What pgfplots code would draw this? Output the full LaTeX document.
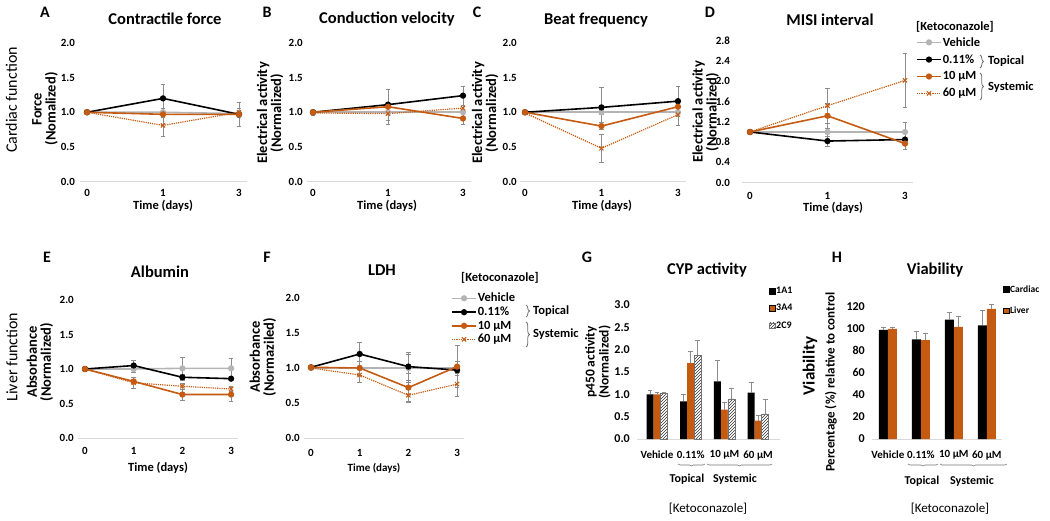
\documentclass[border=0pt]{standalone}
\usepackage{fontspec}
\setmainfont{Carlito}
\usepackage{pgfplots}
\pgfplotsset{compat=1.18}
\usetikzlibrary{patterns,decorations.pathreplacing}
\definecolor{kor}{HTML}{C55A11}
\definecolor{vgr}{HTML}{B4B4B4}
\definecolor{egr}{HTML}{8C8C8C}
\definecolor{bgr}{HTML}{D9D9D9}
\definecolor{brc}{HTML}{707070}
\newcommand{\fs}[1]{\fontsize{#1}{#1}\selectfont}
\pgfplotsset{
  base/.style={scale only axis, anchor=south west, clip=false,
    axis x line*=bottom, axis y line*=left,
    y axis line style={draw=none},
    x axis line style={draw=bgr, line width=1pt},
    major tick length=0pt, tick style={draw=none},
    /pgf/number format/assume math mode=true,
    tick label style={font=\bfseries\fs{11}},
    yticklabel style={anchor=east, inner sep=0pt},
    xticklabel style={anchor=north, inner sep=0pt},
  },
  linep/.style={base, ymin=0, ymax=2, ytick={0,0.5,1,1.5,2},
    xtick={0,1,2}, xticklabels={0,1,3},
    /pgf/number format/fixed, /pgf/number format/fixed zerofill, /pgf/number format/precision=1,
    legend image code/.code={\draw[mark repeat=2,mark phase=2,##1] plot coordinates {(0pt,0pt) (12pt,0pt) (24pt,0pt)};},
    legend cell align=left,
  },
  eb/.style={/pgfplots/error bars/y dir=both, /pgfplots/error bars/y explicit,
    /pgfplots/error bars/error bar style={egr, line width=0.7pt, solid},
    /pgfplots/error bars/error mark options={rotate=90, egr, mark size=2.4pt, line width=0.7pt, solid}},
  ebp/.style={/pgfplots/error bars/y dir=plus, /pgfplots/error bars/y explicit,
    /pgfplots/error bars/error bar style={egr, line width=0.7pt, solid},
    /pgfplots/error bars/error mark options={rotate=90, egr, mark size=2.4pt, line width=0.7pt, solid}},
  veh/.style={vgr, line width=1.6pt, mark=*, mark size=2.3pt, eb},
  blk/.style={black, line width=1.6pt, mark=*, mark size=2.3pt, eb},
  org/.style={kor, line width=1.6pt, mark=*, mark size=2.3pt, eb},
  dtd/.style={kor, line width=1.2pt, densely dotted, mark=x, mark size=3pt, mark options={solid, line width=1pt}, eb},
  barp/.style={base, ybar=0pt, xtick={0,1,2,3}, xticklabels={Vehicle,0.11\%,10 µM,60 µM},
    xticklabel style={yshift=-11.5pt},
    yticklabel style={font=\bfseries\fs{12}},
    legend image code/.code={\draw[##1] (0pt,-2.8pt) rectangle (5.6pt,2.8pt);},
    legend cell align=left,
  },
}
\begin{document}
\begin{tikzpicture}
\path[use as bounding box] (0pt,0pt) rectangle (1050pt,520pt);

% ---------------- A
\begin{axis}[linep, at={(80.2pt,338.5pt)}, width=166.4pt, height=138.5pt, xmin=-0.09, xmax=2.1,
  yticklabel style={xshift=-5pt}, xticklabel style={yshift=-7.5pt}]
\addplot[veh] table[x=x,y=y,y error=e]{
x y e
0 1.00 0.02
1 1.00 0.05
2 0.98 0.05
};
\addplot[blk] table[x=x,y=y,y error=e]{
x y e
0 1.00 0.0
1 1.20 0.20
2 0.97 0.05
};
\addplot[org] table[x=x,y=y,y error=e]{
x y e
0 1.00 0.0
1 0.97 0.05
2 0.97 0.18
};
\addplot[dtd] table[x=x,y=y,y error=e]{
x y e
0 1.00 0.02
1 0.81 0.16
2 1.00 0.05
};
\end{axis}

% ---------------- B
\begin{axis}[linep, at={(307pt,338.5pt)}, width=163.5pt, height=138.5pt, xmin=-0.08, xmax=2.1,
  yticklabel style={xshift=-4pt}, xticklabel style={yshift=-8pt}]
\addplot[veh] table[x=x,y=y,y error=e]{
x y e
0 1.00 0.02
1 1.00 0.03
2 1.00 0.02
};
\addplot[blk] table[x=x,y=y,y error=e]{
x y e
0 1.00 0.0
1 1.11 0.22
2 1.24 0.14
};
\addplot[org] table[x=x,y=y,y error=e]{
x y e
0 1.00 0.0
1 1.08 0.05
2 0.91 0.08
};
\addplot[dtd] table[x=x,y=y,y error=e]{
x y e
0 0.99 0.03
1 0.98 0.15
2 1.06 0.04
};
\end{axis}

% ---------------- C
\begin{axis}[linep, at={(519.6pt,338.5pt)}, width=166pt, height=138.5pt, xmin=-0.07, xmax=2.1,
  yticklabel style={xshift=-2.6pt}, xticklabel style={yshift=-8pt}]
\addplot[veh] table[x=x,y=y,y error=e]{
x y e
0 1.00 0.02
1 1.00 0.03
2 1.00 0.02
};
\addplot[blk] table[x=x,y=y,y error=e]{
x y e
0 1.00 0.0
1 1.07 0.29
2 1.16 0.22
};
\addplot[org] table[x=x,y=y,y error=e]{
x y e
0 1.00 0.0
1 0.80 0.05
2 1.08 0.05
};
\addplot[dtd] table[x=x,y=y,y error=e]{
x y e
0 0.99 0.02
1 0.48 0.20
2 0.965 0.16
};
\end{axis}

% ---------------- D
\begin{axis}[linep, at={(742.25pt,337.5pt)}, width=170.5pt, height=141.5pt, xmin=-0.1, xmax=2.1,
  ymax=2.8, ytick={0,0.4,0.8,1.2,1.6,2.0,2.4,2.8},
  yticklabel style={xshift=-12.2pt}, xticklabel style={yshift=-10pt},
  legend style={draw=none, fill=none, at={(1.019,1.035)}, anchor=north west,
    font=\bfseries\fs{12.5}, inner sep=0pt, row sep=5pt, nodes={inner sep=1pt}}]
\addplot[veh] table[x=x,y=y,y error=e]{
x y e
0 1.00 0.02
1 1.00 0.08
2 1.00 0.20
};
\addlegendentry{Vehicle}
\addplot[blk] table[x=x,y=y,y error=e]{
x y e
0 1.00 0.0
1 0.82 0.10
2 0.85 0.05
};
\addlegendentry{0.11\%}
\addplot[org] table[x=x,y=y,y error=e]{
x y e
0 1.00 0.0
1 1.32 0.25
2 0.77 0.12
};
\addlegendentry{10 µM}
\addplot[dtd] table[x=x,y=y,y error=e]{
x y e
0 1.00 0.02
1 1.52 0.35
2 2.02 0.53
};
\addlegendentry{60 µM}
\end{axis}

% ---------------- E
\begin{axis}[linep, at={(77.7pt,82pt)}, width=160.7pt, height=138pt, xmin=-0.15, xmax=3.15,
  xtick={0,1,2,3}, xticklabels={0,1,2,3},
  yticklabel style={xshift=-3.7pt}, xticklabel style={yshift=-9pt}]
\addplot[veh] table[x=x,y=y,y error=e]{
x y e
0 1.00 0.02
1 1.00 0.05
2 1.01 0.16
3 1.01 0.15
};
\addplot[blk] table[x=x,y=y,y error=e]{
x y e
0 1.00 0.0
1 1.05 0.07
2 0.88 0.04
3 0.86 0.03
};
\addplot[org] table[x=x,y=y,y error=e]{
x y e
0 1.00 0.0
1 0.82 0.03
2 0.63 0.08
3 0.63 0.10
};
\addplot[dtd] table[x=x,y=y,y error=e]{
x y e
0 1.00 0.02
1 0.80 0.08
2 0.75 0.04
3 0.71 0.04
};
\end{axis}

% ---------------- F
\begin{axis}[linep, at={(303.7pt,82pt)}, width=160.7pt, height=140pt, xmin=-0.15, xmax=3.15,
  xtick={0,1,2,3}, xticklabels={0,1,2,3},
  yticklabel style={xshift=-3.7pt}, xticklabel style={yshift=-11pt},
  legend style={draw=none, fill=none, at={(0.917,1.043)}, anchor=north west,
    font=\bfseries\fs{12.5}, inner sep=0pt, row sep=1.7pt, nodes={inner sep=1pt}}]
\addplot[veh] table[x=x,y=y,y error=e]{
x y e
0 1.00 0.02
1 1.00 0.10
2 1.00 0.20
3 1.00 0.10
};
\addlegendentry{Vehicle}
\addplot[blk] table[x=x,y=y,y error=e]{
x y e
0 1.01 0.03
1 1.20 0.17
2 1.02 0.20
3 0.97 0.05
};
\addlegendentry{0.11\%}
\addplot[org] table[x=x,y=y,y error=e]{
x y e
0 1.01 0.02
1 1.00 0.10
2 0.72 0.20
3 1.02 0.30
};
\addlegendentry{10 µM}
\addplot[dtd] table[x=x,y=y,y error=e]{
x y e
0 1.00 0.02
1 0.90 0.10
2 0.61 0.10
3 0.77 0.17
};
\addlegendentry{60 µM}
\end{axis}

% ---------------- G
\begin{axis}[barp, bar width=7pt, at={(636.8pt,81pt)}, width=143.2pt, height=134pt,
  xmin=-0.6, xmax=3.65, ymin=0, ymax=3, ytick={0,0.5,1,1.5,2,2.5,3},
  /pgf/number format/fixed, /pgf/number format/fixed zerofill, /pgf/number format/precision=1,
  yticklabel style={xshift=-6.8pt},
  legend style={draw=none, fill=none, at={(0.923,1.14)}, anchor=north west,
    font=\bfseries\fs{10}, inner sep=0pt, row sep=7pt, nodes={inner sep=1pt}}]
\addplot[fill=black, draw=none, ebp] table[x=x,y=y,y error=e]{
x y e
0 1.00 0.09
1 0.84 0.15
2 1.29 0.46
3 1.04 0.23
};
\addlegendentry{1A1}
\addplot[fill=kor, draw=none, ebp] table[x=x,y=y,y error=e]{
x y e
0 1.00 0.05
1 1.70 0.27
2 0.655 0.16
3 0.41 0.12
};
\addlegendentry{3A4}
\addplot[fill=white, draw=black!55, line width=0.4pt, postaction={pattern=north east lines, pattern color=black!80}, ebp] table[x=x,y=y,y error=e]{
x y e
0 1.02 0.02
1 1.88 0.32
2 0.90 0.24
3 0.56 0.33
};
\addlegendentry{2C9}
\end{axis}

% ---------------- H
\begin{axis}[barp, bar width=9pt, at={(871.7pt,81pt)}, width=130pt, height=132.3pt,
  xmin=-0.49, xmax=3.45, ymin=0, ymax=120, ytick={0,20,40,60,80,100,120},
  yticklabel style={xshift=-6.7pt},
  legend style={draw=none, fill=none, at={(1.01,1.17)}, anchor=north west,
    font=\bfseries\fs{9.5}, inner sep=0pt, row sep=11pt, nodes={inner sep=1pt}}]
\addplot[fill=black, draw=none, ebp] table[x=x,y=y,y error=e]{
x y e
0 99.0 2.5
1 90.3 7.0
2 108.2 6.3
3 103.0 14.0
};
\addlegendentry{Cardiac}
\addplot[fill=kor, draw=none, ebp] table[x=x,y=y,y error=e]{
x y e
0 100.0 1.3
1 89.7 6.0
2 101.8 9.7
3 118.1 3.7
};
\addlegendentry{Liver}
\end{axis}

% ---------------- panel letters
\begin{scope}[every node/.style={font=\bfseries\fs{16}}]
\node at (45pt,508pt) {A};
\node at (267pt,508pt) {B};
\node at (477pt,508pt) {C};
\node at (710pt,508pt) {D};
\node at (47pt,263pt) {E};
\node at (267pt,263pt) {F};
\node at (587pt,263pt) {G};
\node at (837pt,263pt) {H};
\end{scope}
% ---------------- titles
\begin{scope}[every node/.style={font=\bfseries\fs{16.5}}]
\node at (165pt,501pt) {Contractile force};
\node at (387pt,501pt) {Conduction velocity};
\node at (596pt,500pt) {Beat frequency};
\node at (830pt,500pt) {MISI interval};
\node at (160pt,248pt) {Albumin};
\node at (382pt,250pt) {LDH};
\node at (707pt,250pt) {CYP activity};
\node at (935pt,250pt) {Viability};
\end{scope}
% ---------------- row labels
\node[rotate=90, font=\fs{16}] at (11.5pt,420pt) {Cardiac function};
\node[rotate=90, font=\fs{16}] at (12pt,163pt) {Liver function};
% ---------------- y labels
\begin{scope}[every node/.style={rotate=90, align=center, font=\bfseries\fontsize{14.5}{14}\selectfont}]
\node at (45pt,411pt) {Force\\(Nomalized)};
\node at (270pt,407pt) {Electrical activity\\(Normalized)};
\node at (485pt,407pt) {Electrical activity\\(Normalized)};
\node at (705.5pt,408pt) {Electrical activity\\(Normalized)};
\node at (40pt,158pt) {Absorbance\\(Normalized)};
\node at (263pt,163pt) {Absorbance\\(Normaziled)};
\end{scope}
\node[rotate=90, align=center, font=\bfseries\fontsize{13.5}{14}\selectfont] at (598pt,158pt) {p450 activity\\(Normalized)};
\node[rotate=90, font=\bfseries\fs{17}] at (810pt,154pt) {Viability};
\node[rotate=90, font=\bfseries\fs{13}] at (831pt,138pt) {Percentage (\%) relative to control};
% ---------------- x labels
\begin{scope}[every node/.style={font=\bfseries\fs{12.5}}]
\node at (163pt,314pt) {Time (days)};
\node at (387pt,314pt) {Time (days)};
\node at (602pt,314pt) {Time (days)};
\node at (833pt,312pt) {Time (days)};
\node at (158pt,52pt) {Time (days)};
\end{scope}
\node[font=\bfseries\fs{11}] at (374pt,52pt) {Time (days)};
% ---------------- legend groupings
\begin{scope}[every node/.style={font=\bfseries\fs{12.5}, anchor=west, inner sep=0pt}]
\node at (916pt,493pt) {[Ketoconazole]};
\node at (988pt,459pt) {Topical};
\node at (988pt,433pt) {Systemic};
\node at (461pt,242pt) {[Ketoconazole]};
\node at (533pt,209pt) {Topical};
\node at (533pt,186pt) {Systemic};
\end{scope}
\begin{scope}[brc, line width=0.8pt, decoration={brace, amplitude=3.5pt}]
\draw[decorate] (980pt,465pt) -- (980pt,452pt);
\draw[decorate] (980pt,447pt) -- (980pt,420pt);
\draw[decorate] (526pt,215pt) -- (526pt,203pt);
\draw[decorate] (526pt,198pt) -- (526pt,173pt);
\end{scope}
% ---------------- bar chart groupings
\begin{scope}[brc, line width=0.6pt, decoration={brace, mirror, amplitude=2pt}]
\draw[decorate] (678pt,56pt) -- (705pt,56pt);
\draw[decorate] (707pt,56pt) -- (772pt,56pt);
\draw[decorate] (908pt,56pt) -- (938pt,56pt);
\draw[decorate] (940pt,56pt) -- (1007pt,56pt);
\end{scope}
\begin{scope}[every node/.style={font=\bfseries\fs{12}}]
\node at (687pt,41pt) {Topical};
\node at (735pt,41pt) {Systemic};
\node at (922pt,39pt) {Topical};
\node at (972pt,39pt) {Systemic};
\end{scope}
\node[font=\fs{13}] at (708pt,11pt) {[Ketoconazole]};
\node[font=\fs{13}] at (950pt,11pt) {[Ketoconazole]};
\end{tikzpicture}
\end{document}
